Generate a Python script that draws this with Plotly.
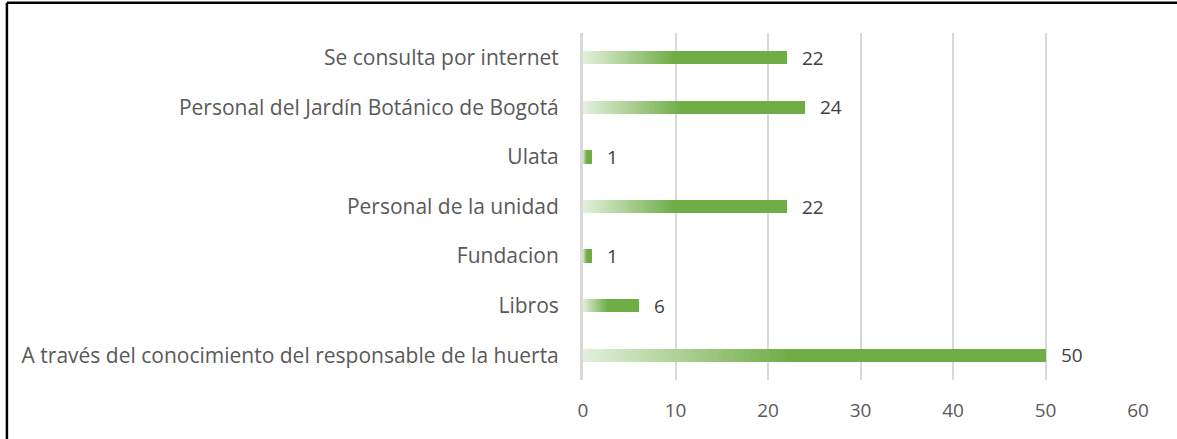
"""Horizontal bar chart with gradient-filled bars."""
import plotly.graph_objects as go

categories = [
    "A través del conocimiento del responsable de la huerta",
    "Libros",
    "Fundacion",
    "Personal de la unidad",
    "Ulata",
    "Personal del Jardín Botánico de Bogotá",
    "Se consulta por internet",
]
values = [50, 6, 1, 22, 1, 24, 22]
x_ticks = [0, 10, 20, 30, 40, 50, 60]

LIGHT = (226, 239, 218)
DARK = (112, 173, 71)
N_STEPS = 40
GRAD_SHARE = 0.45
FONT = "Open Sans"
TEXT = "#595959"


def blend(t):
    r, g, b = (round(a + (c - a) * t) for a, c in zip(LIGHT, DARK))
    return f"rgb({r},{g},{b})"


fig = go.Figure()

# gradient: stack thin slices, each a fixed share of the bar's length
for i in range(N_STEPS):
    fig.add_trace(go.Bar(
        y=categories,
        x=[v * GRAD_SHARE / N_STEPS for v in values],
        orientation="h",
        marker=dict(color=blend(i / (N_STEPS - 1)), line_width=0),
        hoverinfo="skip",
        showlegend=False,
    ))
fig.add_trace(go.Bar(
    y=categories,
    x=[v * (1 - GRAD_SHARE) for v in values],
    orientation="h",
    marker=dict(color=blend(1.0), line_width=0),
    hoverinfo="skip",
    showlegend=False,
))

for cat, v in zip(categories, values):
    fig.add_annotation(
        x=v, y=cat, text=str(v), showarrow=False,
        xanchor="left", xshift=13,
        font=dict(family=FONT, size=19, color="#404040"),
    )

# frame of the cropped chart box (left and top edges)
fig.add_shape(type="line", xref="paper", yref="paper",
              x0=-1.038, x1=-1.038, y0=1.087, y1=-0.3,
              line=dict(color="black", width=2.5))
fig.add_shape(type="line", xref="paper", yref="paper",
              x0=-1.038, x1=1.2, y0=1.087, y1=1.087,
              line=dict(color="black", width=2.5))

fig.update_layout(
    barmode="stack",
    bargap=0.73,
    width=1177,
    height=439,
    margin=dict(l=583, r=39, t=33, b=59),
    plot_bgcolor="white",
    paper_bgcolor="white",
    font=dict(family=FONT, size=19, color=TEXT),
)
fig.update_xaxes(
    range=[0, 60],
    tickvals=x_ticks,
    showgrid=True,
    gridcolor="#d9d9d9",
    gridwidth=2,
    zeroline=False,
    showline=False,
    ticklabelstandoff=17,
    tickfont=dict(family=FONT, size=19, color=TEXT),
)
fig.update_yaxes(
    categoryorder="array",
    categoryarray=categories,
    showline=True,
    linecolor="#d9d9d9",
    linewidth=3,
    showgrid=False,
    ticklabelstandoff=17,
    tickfont=dict(family=FONT, size=21, color=TEXT),
)

# drop the page's default body margin so the figure sits at the top-left corner
fig.write_html(
    "out.html",
    config={"displayModeBar": False},
    post_script="document.body.style.margin='0';",
)
